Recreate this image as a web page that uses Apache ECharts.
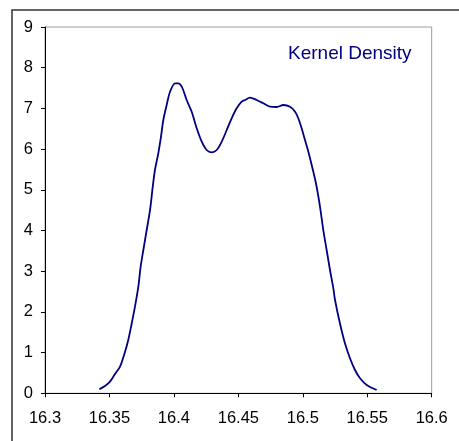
<!DOCTYPE html>
<html>
<head>
<meta charset="utf-8">
<script src="https://cdn.jsdelivr.net/npm/echarts@6/dist/echarts.min.js"></script>
<style>
html,body{margin:0;padding:0;background:#fff;}
#chart{width:459px;height:441px;}
</style>
</head>
<body>
<div id="chart"></div>
<script>
const xValues = [16.3421,16.3465,16.3504,16.3543,16.3582,16.3621,16.3646,16.3673,16.3698,16.3724,16.3742,16.3763,16.3789,16.3815,16.3836,16.3853,16.3879,16.3900,16.3918,16.3944,16.3970,16.4009,16.4034,16.4061,16.4099,16.4138,16.4177,16.4216,16.4254,16.4293,16.4332,16.4371,16.4410,16.4448,16.4487,16.4526,16.4552,16.4590,16.4642,16.4694,16.4746,16.4798,16.4849,16.4901,16.4940,16.4965,16.4991,16.5017,16.5043,16.5069,16.5102,16.5133,16.5159,16.5185,16.5211,16.5237,16.5250,16.5288,16.5327,16.5366,16.5405,16.5444,16.5496,16.5573];
const densityValues = [0.098,0.179,0.285,0.474,0.654,1.022,1.310,1.720,2.128,2.619,3.111,3.521,4.012,4.504,5.076,5.486,5.897,6.305,6.715,7.084,7.410,7.617,7.617,7.533,7.206,6.919,6.511,6.182,5.978,5.921,5.978,6.182,6.469,6.757,7.002,7.165,7.206,7.263,7.206,7.125,7.042,7.034,7.084,7.042,6.919,6.757,6.511,6.224,5.936,5.609,5.160,4.595,4.012,3.521,3.029,2.580,2.292,1.720,1.228,0.860,0.572,0.369,0.204,0.081];
const seriesLabel = 'Kernel Density';

const chart = echarts.init(document.getElementById('chart'), null, {renderer: 'canvas'});
const font = 'Liberation Sans, Arial, sans-serif';
chart.setOption({
  animation: false,
  backgroundColor: '#fff',
  grid: {left: 45, top: 27, right: 27.3, bottom: 47.7, show: true, borderColor: '#9a9a9a', borderWidth: 1},
  graphic: [
    {type: 'rect', shape: {x: 12, y: 10, width: 600, height: 600}, style: {fill: null, stroke: '#333', lineWidth: 1.5}, silent: true, z: 100},
    {type: 'text', left: 288, top: 44, style: {text: seriesLabel, fill: '#000080', font: '19px ' + font}}
  ],
  xAxis: {
    type: 'value', min: 16.3, max: 16.6, interval: 0.05,
    axisLine: {onZero: false, lineStyle: {color: '#000', width: 1}},
    axisTick: {inside: false, length: 4, lineStyle: {color: '#000'}},
    splitLine: {show: false},
    axisLabel: {color: '#000', fontSize: 16.5, fontFamily: font, margin: 17,
      formatter: v => String(parseFloat(v.toFixed(2)))}
  },
  yAxis: {
    type: 'value', min: 0, max: 9, interval: 1,
    axisLine: {show: true, lineStyle: {color: '#000', width: 1}},
    axisTick: {show: true, inside: false, length: 4, lineStyle: {color: '#000'}},
    splitLine: {show: false},
    axisLabel: {color: '#000', fontSize: 16.5, fontFamily: font, margin: 12}
  },
  series: [{
    type: 'line', name: seriesLabel,
    data: xValues.map((x, i) => [x, densityValues[i]]),
    showSymbol: false, smooth: 0.3,
    lineStyle: {color: '#000080', width: 1.8}
  }]
});
</script>
</body>
</html>
